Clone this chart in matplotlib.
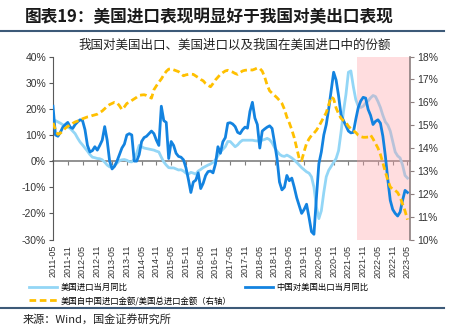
import pandas as pd
import matplotlib.pyplot as plt
from matplotlib.lines import Line2D

cjk = ['Noto Sans CJK SC', 'DejaVu Sans']
plt.rcParams['font.family'] = ['Liberation Sans', 'DejaVu Sans']

# months 2011-05 .. 2023-05
months = pd.date_range('2011-05-01', periods=145, freq='MS').strftime('%Y-%m').tolist()

# US imports, YoY (%)
us_imp = [15.2, 15.5, 15.0, 14.5, 13.9, 13.5, 13.0, 12.5, 11.5, 10.5,
          8.8, 7.3, 6.2, 5.0, 3.8, 2.5, 1.5, 1.3, 1.0, 0.9,
          0.5, -0.4, -1.5, -2.2, -2.3, -1.7, -0.8, 0.2, 0.5, 0.6,
          0.3, -0.2, -0.3, 0.8, 3.0, 6.0, 5.5, 5.0, 4.8, 4.6,
          4.4, 4.2, 3.8, 3.5, 1.5, -0.3, -1.5, -2.5, -2.6, -2.6,
          -3.0, -3.4, -3.3, -3.8, -4.6, -5.0, -4.3, -4.6, -5.0, -3.8,
          -3.2, -2.5, -2.0, -1.5, -1.1, -0.5, 0.5, 2.0, 3.5, 4.5,
          5.5, 7.5, 7.5, 6.5, 5.5, 6.2, 7.3, 8.0, 8.0, 8.0,
          8.0, 8.0, 7.8, 7.7, 7.8, 8.0, 8.3, 8.7, 8.2, 7.0,
          5.2, 3.8, 2.6, 2.0, 1.8, 2.3, 1.8, 1.2, 0.4, -0.5,
          -1.5, -2.5, -3.3, -4.1, -4.6, -6.0, -10.0, -17.5, -22.0, -19.0,
          -12.0, -6.0, -3.5, -2.0, -0.5, 1.0, 4.0, 11.0, 19.0, 25.5,
          34.0, 34.5, 28.5, 23.5, 21.0, 20.5, 21.0, 22.2, 23.0, 24.2,
          25.1, 24.7, 22.8, 20.5, 17.5, 15.0, 13.8, 11.5, 7.5, 3.5,
          2.0, 1.2, -1.5, -5.5, -6.5]

# China exports to US, YoY (%)
cn_exp = [21.0, 10.0, 9.5, 11.0, 13.0, 14.0, 14.8, 13.0, 12.5, 14.0,
          15.0, 15.8, 15.5, 12.0, 6.0, 3.5, 4.0, 5.5, 4.2, 6.0,
          8.0, 13.2, 8.0, 0.0, -3.0, -2.0, 0.0, 2.5, 5.0, 6.5,
          10.0, 10.5, 10.0, 0.0, 0.0, 2.5, 7.5, 9.0, 9.5, 10.5,
          11.5, 10.5, 8.0, 6.0, 21.0, 15.5, 14.8, 1.0, 7.5, 6.0,
          3.0, 1.8, 1.5, 0.5, -2.5, -7.0, -12.0, -8.0, -7.3, -4.5,
          -10.5, -8.5, -5.5, -4.0, -3.8, -4.5, -1.0, 5.5, 3.0, 7.4,
          9.0, 14.5, 14.7, 14.2, 13.2, 11.0, 10.5, 12.0, 13.0, 12.6,
          19.0, 22.5, 16.5, 14.0, 5.0, 11.5, 12.3, 13.0, 13.5, 12.5,
          7.0, 1.0, -8.0, -11.0, -10.0, -5.5, -7.5, -6.5, -10.0, -14.0,
          -17.0, -20.0, -18.5, -16.5, -21.5, -27.0, -28.0, -14.0, -1.0, 3.5,
          10.0, 14.0, 20.0, 27.0, 34.0, 31.0, 25.0, 17.7, 15.5, 13.5,
          11.5, 10.8, 11.0, 16.0, 20.5, 23.0, 24.4, 24.1, 19.8, 17.5,
          14.0, 15.2, 15.8, 14.5, 9.5, 2.0, -7.0, -15.0, -18.5, -20.0,
          -21.0, -19.5, -15.0, -11.2, -12.0]

# US imports from China / total US imports (%, right axis)
share = [15.10, 14.80, 14.60, 14.65, 14.75, 14.87, 14.95, 15.00, 15.08, 15.14,
         15.18, 15.22, 15.28, 15.32, 15.36, 15.38, 15.42, 15.45, 15.48, 15.55,
         15.62, 15.72, 15.82, 15.90, 15.95, 16.00, 15.98, 15.85, 15.68, 15.80,
         15.95, 16.00, 16.08, 16.15, 16.22, 16.30, 16.32, 16.33, 16.30, 16.25,
         16.18, 16.55, 16.72, 16.88, 17.02, 17.20, 17.35, 17.45, 17.46, 17.42,
         17.38, 17.34, 17.25, 17.16, 17.20, 17.22, 17.23, 17.22, 17.15, 17.08,
         17.00, 16.94, 16.82, 16.74, 16.68, 16.82, 16.98, 17.10, 17.22, 17.30,
         17.37, 17.40, 17.36, 17.32, 17.26, 17.22, 17.30, 17.37, 17.40, 17.41,
         17.42, 17.41, 17.45, 17.50, 17.48, 17.36, 17.10, 16.75, 16.50, 16.40,
         16.30, 16.20, 16.08, 15.95, 15.70, 15.35, 15.10, 14.80, 14.45, 14.00,
         13.55, 13.45, 13.85, 14.20, 14.40, 14.55, 14.65, 14.78, 14.95, 15.15,
         15.35, 15.55, 15.90, 16.24, 16.15, 15.75, 15.50, 15.30, 15.20, 15.12,
         14.95, 14.85, 14.76, 14.68, 14.56, 14.50, 14.47, 14.47, 14.48, 14.57,
         14.40, 14.20, 14.00, 13.72, 13.35, 12.95, 12.60, 12.30, 12.20, 12.15,
         12.05, 11.85, 11.55, 11.25, 10.87]

shade_start = '2021-08'
left_ticks = [-30, -20, -10, 0, 10, 20, 30, 40]
right_ticks = [10, 11, 12, 13, 14, 15, 16, 17, 18]

x = list(range(len(months)))
xt = x[::6]

fig = plt.figure(figsize=(4.51, 3.25), dpi=100)
ax = fig.add_axes([0.1175, 0.263, 0.7915, 0.563])
ax2 = ax.twinx()

l1, = ax.plot(x, us_imp, color='#93d6f6', lw=2.0, zorder=2)
# pink band sits over the light line but under the others
ax.axvspan(months.index(shade_start) + 0.3, 145, color='#ff9fa5', alpha=0.35, lw=0, zorder=2.5)
l2, = ax.plot(x, cn_exp, color='#1383e0', lw=2.0, zorder=3)
l3, = ax2.plot(x, share, color='#ffc000', lw=2.0, ls=(0, (2.4, 1.3)), zorder=3)

ax.set_xlim(0, 145)
ax.set_ylim(-30, 40)
ax2.set_ylim(10, 18)

ax.set_yticks(left_ticks)
ax.set_yticklabels([f'{v}%' for v in left_ticks], fontsize=7.5, color='#333333')
ax2.set_yticks(right_ticks)
ax2.set_yticklabels([f'{v}%' for v in right_ticks], fontsize=7.5, color='#333333')

ax.set_xticks(xt)
ax.set_xticklabels([months[i] for i in xt], rotation=90, fontsize=6.5, color='#333333')
ax.tick_params(axis='x', length=0, pad=4)
ax.tick_params(axis='y', length=3, width=0.8, color='#595959', pad=2)
ax2.tick_params(axis='y', length=3, width=0.8, color='#8c7f7f', pad=2)

# zero line with tick marks
zx = ax.secondary_xaxis(3 / 7)
zx.set_xticks(xt)
zx.set_xticklabels([])
zx.tick_params(length=3, width=0.8, color='#7f7f7f', direction='out')
zx.spines['bottom'].set_color('#7f7f7f')
zx.spines['bottom'].set_linewidth(1.2)

for a in (ax, ax2):
    a.spines['top'].set_visible(False)
    a.spines['bottom'].set_visible(False)
ax.spines['left'].set_color('#595959')
ax2.spines['left'].set_visible(False)
ax2.spines['right'].set_color('#8c7f7f')
ax2.spines['right'].set_linewidth(1.2)
ax.spines['right'].set_visible(False)

fig.text(0.055, 0.948, '图表19：美国进口表现明显好于我国对美出口表现', family=cjk,
         fontsize=12, fontweight='bold', color='#1a1a1a', va='center')
fig.add_artist(Line2D([0.0, 0.985], [0.905, 0.905], color='#3d5a78', lw=1.5))
fig.text(0.52, 0.862, '我国对美国出口、美国进口以及我国在美国进口中的份额', family=cjk,
         fontsize=9, color='#222222', ha='center', va='center')

fig.legend([l1, l3, l2],
           ['美国进口当月同比', '美国自中国进口金额/美国总进口金额（右轴）', '中国对美国出口当月同比'],
           loc='upper left', bbox_to_anchor=(0.064, 0.128), ncol=2, frameon=False,
           prop={'family': cjk, 'size': 6}, handlelength=3.4, handletextpad=0.4,
           columnspacing=1.6, labelspacing=0.45, borderpad=0, borderaxespad=0)

fig.add_artist(Line2D([0.0, 0.985], [0.052, 0.052], color='#3d5a78', lw=1.5))
fig.text(0.05, 0.016, '来源：Wind，国金证券研究所', family=cjk, fontsize=8,
         color='#222222', va='center')

fig.savefig('out.png', dpi=100)
